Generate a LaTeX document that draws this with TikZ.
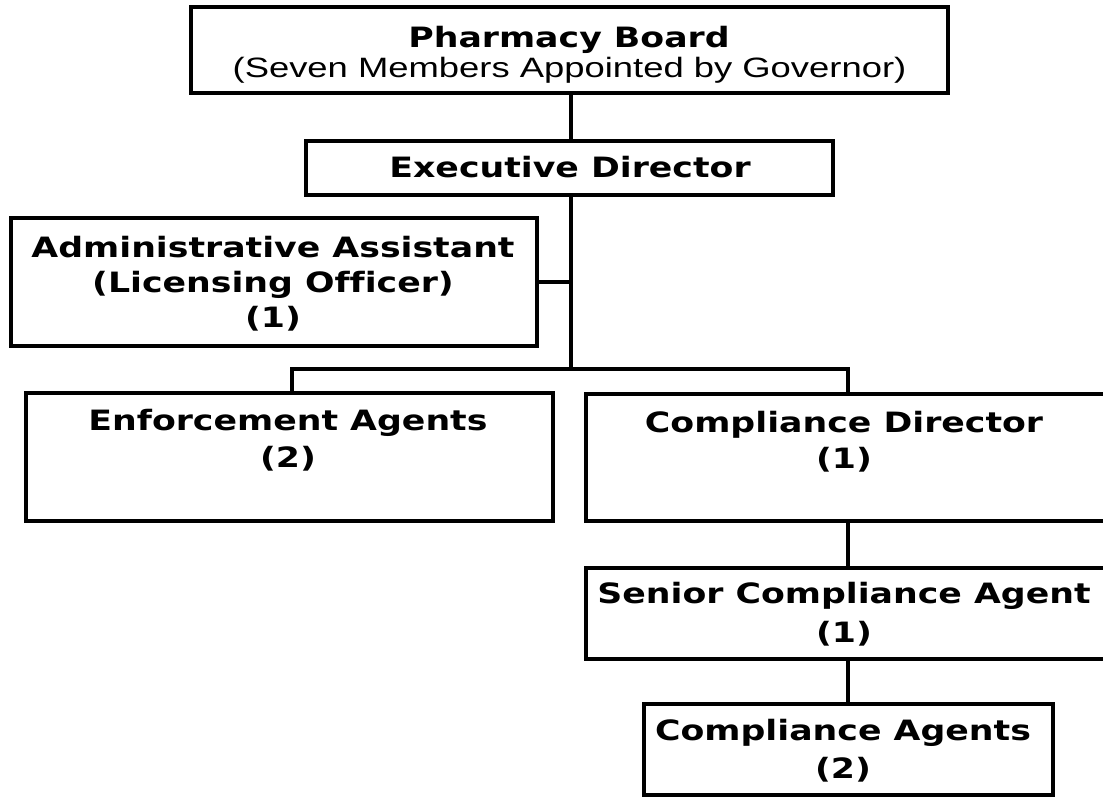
\documentclass[tikz,border=0pt]{standalone}
\usepackage{fontspec}
\newfontfamily\boxfont{DejaVu Sans}[FakeStretch=1.24, Ligatures=NoCommon]
\newfontfamily\subfont{Liberation Sans}[FakeStretch=1.3]
\begin{document}
\begin{tikzpicture}[x=1pt,y=-1pt,
  box/.style={draw, line width=3.2pt, rectangle, inner sep=0pt},
  lbl/.style={font=\boxfont\bfseries\fontsize{28}{#1}\selectfont, align=center, inner sep=0pt, anchor=base},
  lbl/.default=37,
  sub/.style={font=\subfont\fontsize{28}{30}\selectfont, inner sep=0pt, anchor=base},
  link/.style={draw, line width=3.2pt}]
\useasboundingbox (0,0) rectangle (1103,796);

% boxes
\node[box, minimum width=757, minimum height=86]  (board) at (569.5,50)  {};
\node[box, minimum width=527, minimum height=54]  (exec)  at (569.5,168) {};
\node[box, minimum width=526, minimum height=128] (adm)   at (274,282)   {};
\node[box, minimum width=527, minimum height=128] (ea)    at (289.5,457) {};
\node[box, minimum width=519, minimum height=127] (cd)    at (845.5,457.5) {};
\node[box, minimum width=519, minimum height=91]  (sca)   at (845.5,613.5) {};
\node[box, minimum width=409, minimum height=91]  (ca)    at (848.5,749.5) {};

% labels (a multi-line label sits on the baseline of its last line)
\node[lbl] (tboard) at (569,47) {Pharmacy Board};
\node[sub] (tboard2) at (569.5,77) {(Seven Members Appointed by Governor)};
\node[lbl] (texec) at (570,177) {Executive Director};
\node[lbl=35] (tadm) at (273,327) {Administrative Assistant\\(Licensing Officer)\\(1)};
\node[lbl] (tea) at (288,467) {Enforcement Agents\\(2)};
\node[lbl=36] (tcd) at (844,468) {Compliance Director\\(1)};
\node[lbl=39] (tsca) at (844,642) {Senior Compliance Agent\\(1)};
\node[lbl=38] (tca) at (843,778) {Compliance Agents\\(2)};

% junctions
\coordinate (jT) at (571,284);
\coordinate (jB) at (571,369);
\coordinate (jL) at (292,369);
\coordinate (jR) at (848,369);

% connectors
\draw[link] (board.south -| jT) -- (exec.north -| jT);
\draw[link] (exec.south -| jT) -- (jB);
\draw[link] (adm.east) -- (adm.east -| jT);
\draw[link] (ea.north -| jL) -- (jL) -- (jR) -- (cd.north -| jR);
\draw[link] (cd.south -| jR) -- (sca.north -| jR);
\draw[link] (sca.south -| jR) -- (ca.north -| jR);
\end{tikzpicture}
\end{document}
